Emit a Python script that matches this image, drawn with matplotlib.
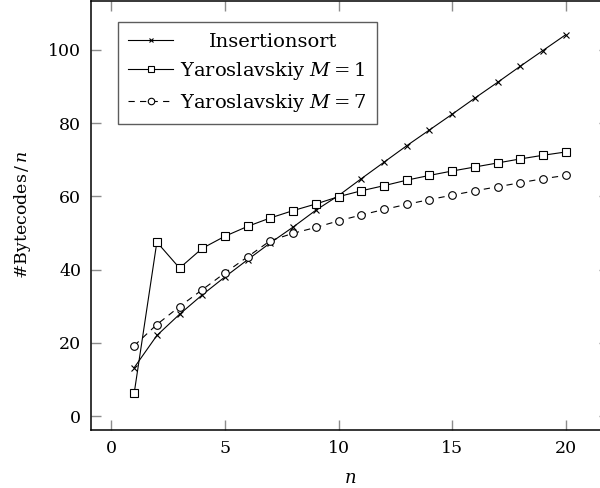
import matplotlib
matplotlib.use("Agg")
import matplotlib.pyplot as plt
import matplotlib.transforms as mtransforms

plt.rcParams['font.family'] = ['DejaVu Serif']
plt.rcParams['mathtext.fontset'] = 'dejavuserif'
plt.rcParams['lines.scale_dashes'] = False

n = list(range(1, 21))
insertionsort = [13.2, 22.0, 27.8, 33.1, 38.0, 42.7, 47.3, 51.6, 56.2, 60.2,
                 64.8, 69.3, 73.8, 78.1, 82.4, 86.8, 91.1, 95.5, 99.8, 104.1]
yaro_m1 = [6.2, 47.5, 40.4, 45.8, 49.1, 51.8, 54.1, 56.1, 57.9, 59.9,
           61.5, 62.9, 64.4, 65.7, 66.9, 68.0, 69.1, 70.2, 71.2, 72.1]
yaro_m7 = [19.2, 25.0, 29.9, 34.5, 39.1, 43.5, 47.9, 49.9, 51.5, 53.3,
           54.9, 56.4, 57.8, 59.1, 60.3, 61.5, 62.6, 63.7, 64.8, 65.7]

xticks = [0, 5, 10, 15, 20]
yticks = [0, 20, 40, 60, 80, 100]

fig = plt.figure(figsize=(6, 4.88), dpi=100)
# right spine sits just past the edge of the picture, like the original
ax = fig.add_axes([91 / 600, 58 / 488, 517.8 / 600, 429.3 / 488])

ax.plot(n, insertionsort, color='black', lw=0.8, marker='x', ms=4,
        mew=0.8, label='Insertionsort')
ax.plot(n, yaro_m1, color='black', lw=0.8, marker='s', ms=5.5, mew=0.8,
        mfc='white', label=r'Yaroslavskiy $M = 1$')
ax.plot(n, yaro_m7, color='black', lw=0.8, marker='o', ms=5.5, mew=0.8,
        mfc='white', dashes=(4.5, 3.8), label=r'Yaroslavskiy $M = 7$')

ax.set_xlim(-0.9, 21.9)
ax.set_ylim(-3.8, 113.4)
ax.set_xticks(xticks)
ax.set_yticks(yticks)
ax.tick_params(direction='in', length=7, width=1.0, color='#8c8c8c',
               top=True, right=True, labelsize=12.5, pad=7)
for sp in ax.spines.values():
    sp.set_linewidth(1.1)

ax.set_xlabel(r'$n$', fontsize=13, labelpad=9)
ax.set_ylabel(r'#Bytecodes$\,/\,n$', fontsize=12.5, labelpad=11)

leg = ax.legend(loc='upper left', bbox_to_anchor=(26.7 / 517.8, 1 - 21.5 / 429.3),
                fontsize=14, frameon=True, fancybox=False, handlelength=2.3,
                handletextpad=0.33, labelspacing=0.48, borderpad=0.55,
                borderaxespad=0, markerscale=0.85)
leg.get_frame().set_edgecolor('#333333')
leg.get_frame().set_linewidth(1.0)

# center the first legend entry like the original
fig.canvas.draw()
r = fig.canvas.get_renderer()
texts = leg.get_texts()
widths = [t.get_window_extent(r).width for t in texts]
dx = (max(widths) - widths[0]) / 2
texts[0].set_transform(texts[0].get_transform() + mtransforms.Affine2D().translate(dx, 0))

fig.savefig('out.png', dpi=100)
